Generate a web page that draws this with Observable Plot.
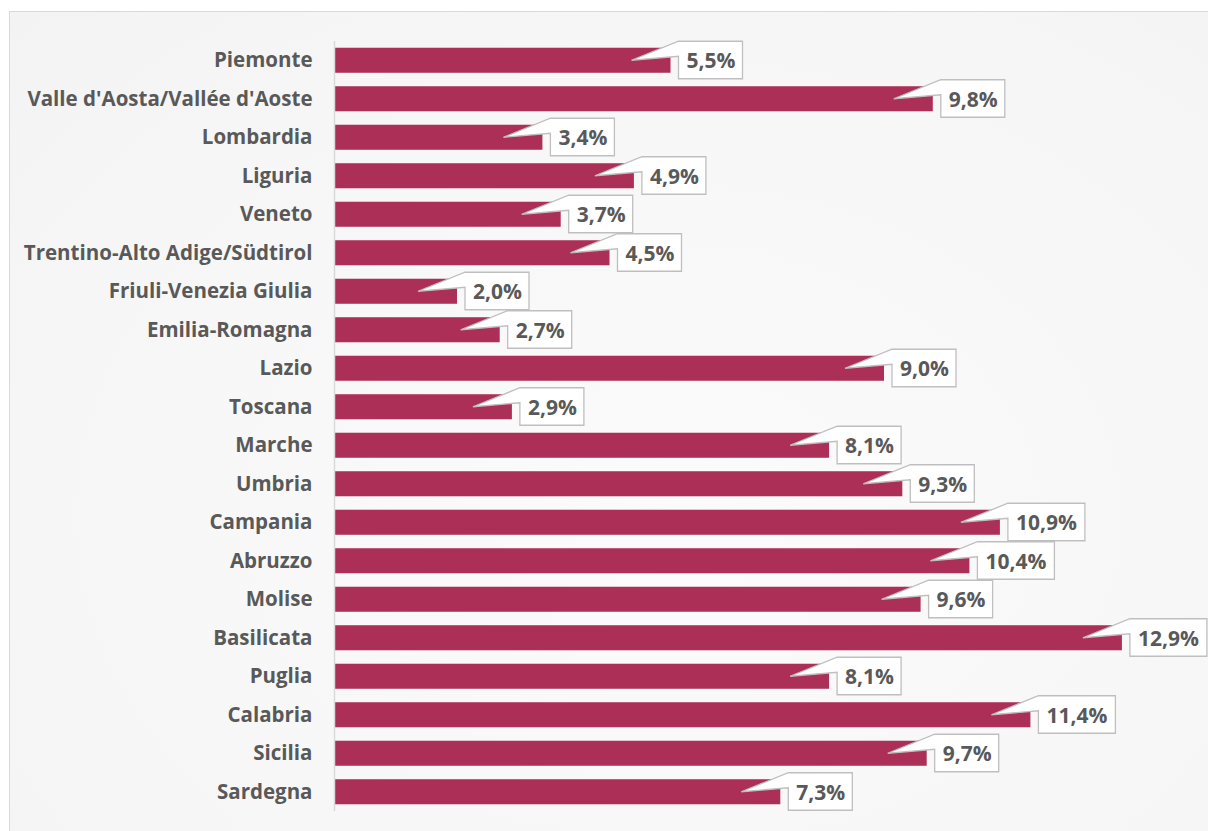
<!DOCTYPE html>
<html>
<head>
<meta charset="utf-8">
<script src="https://cdn.jsdelivr.net/npm/d3@7"></script>
<script src="https://cdn.jsdelivr.net/npm/@observablehq/plot@0.6"></script>
<style>
  html, body { margin: 0; padding: 0; background: #ffffff; width: 1208px; height: 831px; overflow: hidden; }
  #frame { position: absolute; left: 9px; top: 11px; width: 1220px; height: 840px;
    border: 1px solid #d9d9d9;
    background: radial-gradient(ellipse at 55% 60%, #fbfbfb 0%, #f6f6f6 70%, #f3f3f3 100%); }
  #chart { position: absolute; left: 0; top: 0; }
</style>
</head>
<body>
<div id="frame"></div>
<div id="chart"></div>
<script>
const regions = [
  "Piemonte", "Valle d'Aosta/Vallée d'Aoste", "Lombardia", "Liguria", "Veneto",
  "Trentino-Alto Adige/Südtirol", "Friuli-Venezia Giulia", "Emilia-Romagna", "Lazio", "Toscana",
  "Marche", "Umbria", "Campania", "Abruzzo", "Molise",
  "Basilicata", "Puglia", "Calabria", "Sicilia", "Sardegna"
];
const values = [5.5, 9.8, 3.4, 4.9, 3.7, 4.5, 2.0, 2.7, 9.0, 2.9, 8.1, 9.3, 10.9, 10.4, 9.6, 12.9, 8.1, 11.4, 9.7, 7.3];

const fmt = v => v.toFixed(1).replace(".", ",") + "%";
const data = regions.map((r, i) => ({region: r, value: values[i], label: fmt(values[i])}));

const font = "'Open Sans', 'DejaVu Sans', sans-serif";
const textColor = "#595959";

function callouts(index, scales) {
  const x = scales.x, y = scales.y;
  const bw = y.bandwidth ? y.bandwidth() : 0;
  const g = d3.create("svg:g");
  for (const d of data) {
    const xe = x(d.value);
    const yc = y(d.region) + bw / 2;
    const bx = xe + 8, by = yc - 19, h = 37.5;
    const w = d.label.length > 4 ? 77 : 64;
    const tx = xe - 39, ty = yc;
    g.append("path")
      .attr("d", `M${bx},${by}H${bx + w}V${by + h}H${bx}V${by + 15}L${tx},${ty}Z`)
      .attr("fill", "#ffffff")
      .attr("stroke", "#bfbfbf")
      .attr("stroke-width", 1.3);
  }
  return g.node();
}

const chart = Plot.plot({
  width: 1208,
  height: 831,
  marginLeft: 335,
  marginRight: 19,
  marginTop: 41,
  marginBottom: 20,
  style: {background: "transparent", fontFamily: font, color: textColor, overflow: "visible", fontSize: "20.5px"},
  x: {domain: [0, 14], axis: null},
  y: {domain: regions, round: false, paddingInner: 0.35, paddingOuter: 0.175, label: null, tickSize: 0, tickPadding: 23},
  marks: [
    Plot.barX(data, {x: "value", y: "region", fill: "#ab2f57"}),
    Plot.ruleX([0], {stroke: "#d9d9d9", strokeWidth: 1.5, dx: -1}),
    callouts,
    Plot.text(data, {x: "value", y: "region", text: "label", textAnchor: "start", dx: 15.5, dy: 1,
      fill: textColor, fontSize: 21, fontWeight: "bold", fontFamily: font})
  ]
});
chart.querySelectorAll("g[aria-label='y-axis tick label'], [aria-label='y-axis tick label'] text").forEach(el => {
  el.setAttribute("font-size", "20.5");
  el.setAttribute("font-weight", "bold");
  el.setAttribute("fill", textColor);
  el.style.fontSize = "20.5px";
});
document.getElementById("chart").appendChild(chart);
</script>
</body>
</html>
